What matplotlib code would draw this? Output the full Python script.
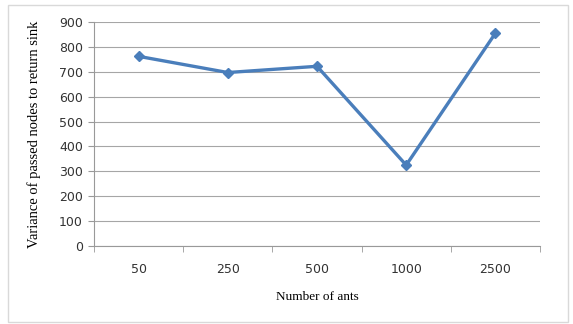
import matplotlib.pyplot as plt
from matplotlib.patches import Rectangle
import numpy as np

ants = ["50", "250", "500", "1000", "2500"]
variance = [762, 697, 722, 325, 855]

fig = plt.figure(figsize=(5.73, 3.24), dpi=100)
fig.patches.append(Rectangle((8 / 573, 0.005), 560 / 573, 1 - 5 / 324 - 0.005,
                             transform=fig.transFigure, fill=False,
                             edgecolor="#d9d9d9", linewidth=1.0))
ax = fig.add_axes([94 / 573, 1 - 246 / 324, 446 / 573, 224 / 324])

x = np.arange(len(ants))
ax.plot(x, variance, color="#4a7ebb", linewidth=2.4, marker="D", markersize=5.5)

ax.set_xlim(-0.5, len(ants) - 0.5)
ax.set_ylim(0, 900)
ax.set_yticks(range(0, 901, 100))
ax.set_xticks(x)
ax.set_xticklabels(ants)
ax.set_xticks(np.arange(-0.5, len(ants), 1), minor=True)
ax.tick_params(axis="x", which="major", length=0, pad=12)
ax.tick_params(axis="x", which="minor", length=4, color="#999999")
ax.tick_params(axis="y", length=4, color="#999999", pad=4)
ax.tick_params(labelsize=9, labelcolor="#333333")

ax.grid(axis="y", color="#a6a6a6", linewidth=0.8)
ax.set_axisbelow(True)
for side in ["top", "right"]:
    ax.spines[side].set_visible(False)
ax.spines["left"].set_color("#999999")
ax.spines["bottom"].set_color("#999999")

ax.set_xlabel("Number of ants", family="Liberation Serif", fontsize=9.5, labelpad=11)
ax.set_ylabel("Variance of passed nodes to return sink", family="Liberation Serif",
              fontsize=10.5, labelpad=13)

fig.savefig("out.png", dpi=100)
